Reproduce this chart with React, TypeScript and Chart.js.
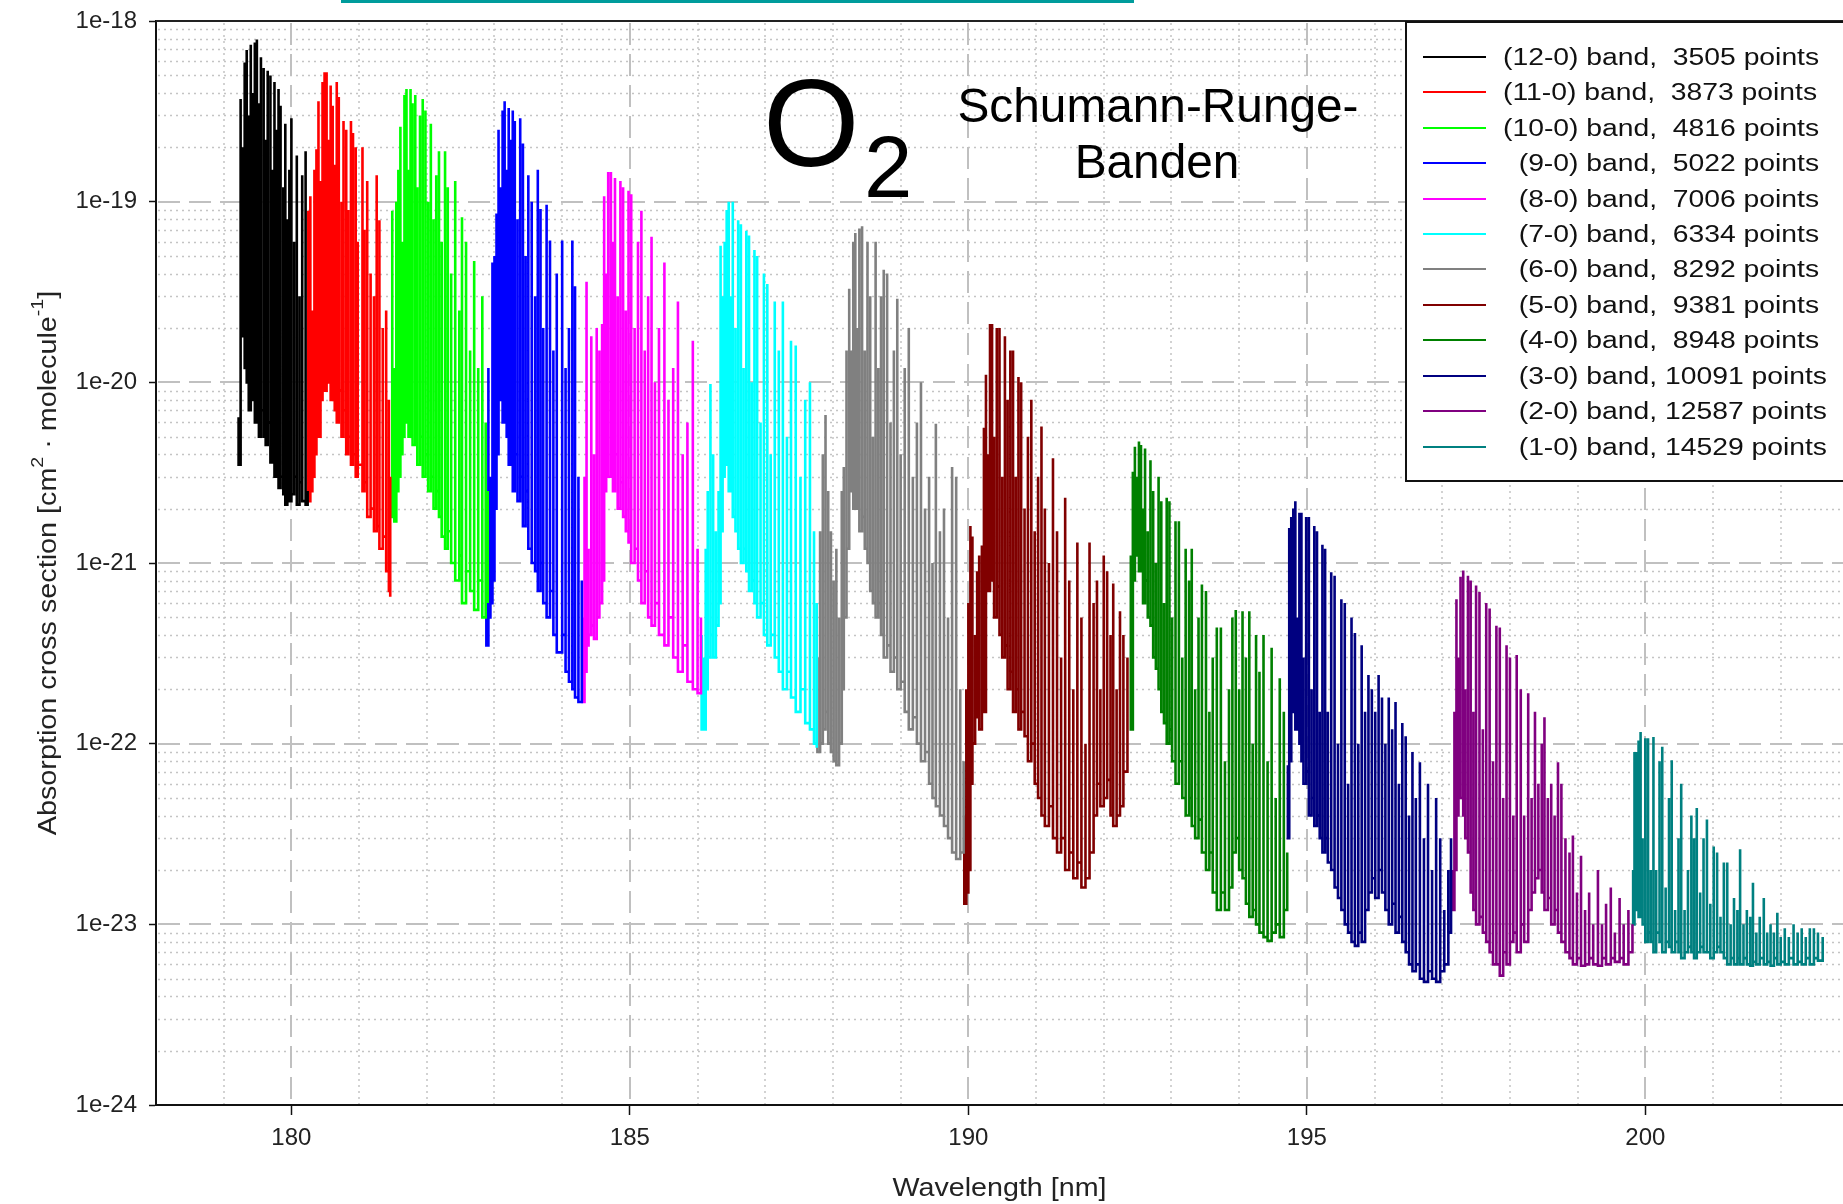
import React, { useEffect, useRef } from 'react';
import { Chart, registerables } from 'chart.js';

Chart.register(...registerables);

// Each spike: [wavelength nm, peak cross section, trough cross section]
type Spike = [number, number, number];

const band12: Spike[] = [
  [179.22, 6.4e-21, 3.5e-21], [179.25, 3.7e-19, 1.9e-20], [179.28, 2.0e-19, 1.8e-20], [179.31, 5.9e-19, 1.2e-20],
  [179.34, 6.9e-19, 1.0e-20], [179.37, 3.0e-19, 7e-21], [179.40, 7.4e-19, 1.4e-20], [179.43, 4.0e-19, 8e-21],
  [179.46, 7.6e-19, 6e-21], [179.49, 7.9e-19, 1.1e-20], [179.52, 3.5e-19, 5e-21], [179.55, 6.3e-19, 7e-21],
  [179.59, 5.5e-19, 5e-21], [179.62, 2.2e-19, 4.5e-21], [179.65, 5.3e-19, 6e-21], [179.69, 5.0e-19, 3.6e-21],
  [179.72, 1.5e-19, 4e-21], [179.75, 4.6e-19, 3e-21], [179.78, 2.5e-19, 5e-21], [179.81, 4.2e-19, 2.6e-21],
  [179.84, 3.4e-19, 3e-21], [179.88, 1.2e-19, 2.4e-21], [179.91, 2.7e-19, 2.1e-21], [179.94, 8e-20, 3e-21],
  [179.97, 1.5e-19, 2.2e-21], [180.00, 2.9e-19, 2.4e-21], [180.04, 6e-20, 3e-21], [180.08, 1.8e-19, 2.1e-21],
  [180.12, 3e-20, 2.8e-21], [180.16, 1.4e-19, 2.2e-21], [180.21, 1.9e-19, 2.1e-21], [180.24, 2.5e-21, 2.1e-21],
];

const band11: Spike[] = [
  [180.25, 8.9e-20, 2.2e-21], [180.28, 1.07e-19, 2.5e-21], [180.31, 2.5e-20, 3.0e-21], [180.34, 1.5e-19, 4e-21],
  [180.37, 1.95e-19, 6e-21], [180.40, 3.6e-19, 5e-21], [180.43, 1.3e-19, 8e-21], [180.46, 4.6e-19, 1.2e-20],
  [180.49, 5.2e-19, 9e-21], [180.52, 5.2e-19, 1.3e-20], [180.55, 2.2e-19, 1.0e-20], [180.58, 4.4e-19, 8e-21],
  [180.61, 3.4e-19, 1.1e-20], [180.64, 1.6e-19, 7e-21], [180.67, 4.6e-19, 6e-21], [180.70, 3.8e-19, 9e-21],
  [180.74, 1.0e-19, 5e-21], [180.77, 2.8e-19, 7e-21], [180.81, 2.5e-19, 4e-21], [180.84, 9e-20, 5e-21],
  [180.88, 2.8e-19, 3.5e-21], [180.91, 2.4e-19, 4e-21], [180.95, 2.0e-19, 3e-21], [180.98, 6e-20, 3.5e-21],
  [181.05, 2.0e-19, 2.5e-21], [181.08, 7e-20, 2.8e-21], [181.12, 1.3e-19, 1.8e-21], [181.17, 4e-20, 2e-21],
  [181.22, 3e-20, 1.5e-21], [181.26, 1.4e-19, 1.6e-21], [181.30, 7.9e-20, 1.2e-21], [181.35, 2e-20, 1.4e-21],
  [181.40, 2.5e-20, 9e-22], [181.44, 8e-21, 7e-22], [181.46, 3e-21, 6.5e-22],
];

const band10: Spike[] = [
  [181.47, 2.5e-21, 1.8e-21], [181.49, 8.9e-20, 2.2e-21], [181.52, 1.2e-20, 1.7e-21], [181.55, 1.0e-19, 2.5e-21],
  [181.58, 1.5e-19, 3e-21], [181.61, 2.6e-19, 4e-21], [181.64, 6e-20, 5e-21], [181.67, 3.9e-19, 6e-21],
  [181.70, 4.2e-19, 8e-21], [181.73, 1.5e-19, 5e-21], [181.76, 4.2e-19, 7e-21], [181.79, 3.5e-19, 4.5e-21],
  [181.83, 3.9e-19, 6e-21], [181.86, 1.2e-19, 3.5e-21], [181.90, 3.0e-19, 5e-21], [181.94, 3.7e-19, 3e-21],
  [181.98, 3.2e-19, 4e-21], [182.02, 1.0e-19, 2.5e-21], [182.06, 2.7e-19, 3e-21], [182.10, 8e-20, 2e-21],
  [182.14, 1.4e-19, 2.5e-21], [182.18, 1.9e-19, 1.8e-21], [182.22, 6e-20, 1.4e-21], [182.27, 1.9e-19, 1.2e-21],
  [182.31, 1.2e-19, 1.5e-21], [182.36, 4e-20, 1.0e-21], [182.42, 1.3e-19, 8e-22], [182.48, 2.5e-20, 1.1e-21],
  [182.52, 8.2e-20, 6e-22], [182.58, 6e-20, 9e-22], [182.64, 1.5e-20, 7e-22], [182.70, 4.7e-20, 5.5e-22],
  [182.76, 1.2e-20, 8e-22], [182.82, 3e-20, 5e-22], [182.87, 6e-21, 7e-22], [182.90, 2.5e-21, 6e-22],
];

const band9: Spike[] = [
  [182.88, 1.5e-21, 3.5e-22], [182.91, 1.2e-20, 5e-22], [182.94, 3e-21, 6e-22], [182.97, 4.6e-20, 8e-22],
  [183.00, 5e-20, 2e-21], [183.03, 8.6e-20, 4e-21], [183.06, 2.5e-19, 8e-21], [183.09, 1.2e-19, 1.0e-20],
  [183.12, 3.2e-19, 6e-21], [183.15, 3.6e-19, 1.0e-20], [183.18, 1.5e-19, 5e-21], [183.21, 3.3e-19, 3.5e-21],
  [183.24, 2.2e-19, 5e-21], [183.27, 3.2e-19, 2.5e-21], [183.30, 2.8e-19, 4e-21], [183.34, 8e-20, 2.2e-21],
  [183.38, 2.9e-19, 3e-21], [183.42, 2.1e-19, 1.6e-21], [183.46, 5e-20, 2.5e-21], [183.50, 1.4e-19, 1.2e-21],
  [183.55, 1.0e-19, 1.0e-21], [183.60, 3e-20, 9e-22], [183.64, 1.5e-19, 7e-22], [183.68, 9.1e-20, 1.0e-21],
  [183.72, 2e-20, 6e-22], [183.77, 9.6e-20, 5e-22], [183.82, 6.1e-20, 7e-22], [183.87, 1.5e-20, 4e-22],
  [183.92, 4e-20, 3.2e-22], [184.00, 6.1e-20, 4e-22], [184.05, 1.2e-20, 2.5e-22], [184.10, 2e-20, 2.2e-22],
  [184.15, 6.1e-20, 2e-22], [184.19, 3.4e-20, 1.8e-22], [184.24, 3e-21, 1.7e-22], [184.29, 8e-22, 1.7e-22],
];

const band8: Spike[] = [
  [184.30, 5e-22, 1.7e-22], [184.33, 3e-21, 2.5e-22], [184.36, 3.6e-20, 3.5e-22], [184.39, 1.2e-21, 4e-22],
  [184.43, 1.8e-20, 4.5e-22], [184.47, 4e-21, 3.8e-22], [184.51, 2e-20, 5e-22], [184.55, 1.5e-20, 6e-22],
  [184.59, 2.1e-20, 8e-22], [184.62, 1.07e-19, 2.5e-21], [184.65, 4e-20, 5e-21], [184.68, 1.46e-19, 3e-21],
  [184.72, 1.46e-19, 6e-21], [184.75, 6e-20, 2.5e-21], [184.78, 1.35e-19, 4e-21], [184.82, 3e-20, 2e-21],
  [184.86, 1.3e-19, 2.8e-21], [184.90, 1.2e-19, 1.8e-21], [184.94, 2.5e-20, 1.5e-21], [184.98, 1.15e-19, 1.3e-21],
  [185.02, 1.1e-19, 1.0e-21], [185.07, 2e-20, 1.2e-21], [185.12, 6e-20, 8e-22], [185.17, 8.9e-20, 6e-22],
  [185.22, 1.5e-20, 9e-22], [185.27, 3e-20, 5e-22], [185.32, 6.4e-20, 4.5e-22], [185.37, 1e-20, 6e-22],
  [185.43, 2e-20, 4e-22], [185.51, 4.6e-20, 3.5e-22], [185.57, 8e-21, 5e-22], [185.64, 1.2e-20, 3e-22],
  [185.71, 2.8e-20, 2.5e-22], [185.78, 4e-21, 3.5e-22], [185.85, 6e-21, 2.2e-22], [185.93, 1.7e-20, 2e-22],
  [186.00, 1.2e-21, 1.9e-22], [186.05, 5e-22, 2.2e-22],
];

const band7: Spike[] = [
  [186.06, 4e-22, 1.2e-22], [186.09, 3e-22, 1.2e-22], [186.12, 1.2e-21, 2e-22], [186.15, 2.5e-21, 3e-22],
  [186.19, 9.8e-21, 4e-22], [186.23, 4e-21, 3e-22], [186.27, 1.5e-21, 4.5e-22], [186.31, 2.5e-21, 6e-22],
  [186.34, 5.7e-20, 1.5e-21], [186.37, 3e-20, 3e-21], [186.40, 6e-20, 5e-21], [186.43, 9e-20, 3.5e-21],
  [186.46, 1.0e-19, 2.5e-21], [186.49, 3e-20, 3e-21], [186.52, 1.0e-19, 1.8e-21], [186.56, 2e-20, 1.5e-21],
  [186.60, 7.9e-20, 1.2e-21], [186.64, 7.5e-20, 1.0e-21], [186.68, 1.2e-20, 1.2e-21], [186.72, 6.9e-20, 9e-22],
  [186.76, 6.5e-20, 7e-22], [186.80, 1e-20, 8e-22], [186.84, 5.4e-20, 6e-22], [186.88, 5e-20, 5e-22],
  [186.93, 6e-21, 6e-22], [186.98, 4e-20, 4e-22], [187.03, 3.5e-20, 3.5e-22], [187.08, 4e-21, 4e-22],
  [187.14, 2.8e-20, 3e-22], [187.20, 1.5e-20, 2.5e-22], [187.26, 2.8e-20, 2e-22], [187.32, 5e-21, 2.5e-22],
  [187.38, 1.7e-20, 1.8e-22], [187.45, 1.6e-20, 1.5e-22], [187.52, 3e-21, 2e-22], [187.59, 8e-21, 1.3e-22],
  [187.66, 1.0e-20, 1.2e-22], [187.72, 1.5e-21, 1e-22], [187.76, 6e-22, 9.5e-23],
];

const band6: Spike[] = [
  [187.77, 3e-22, 9e-23], [187.81, 1.5e-21, 1e-22], [187.85, 4e-21, 1.2e-22], [187.89, 6.6e-21, 1.5e-22],
  [187.93, 2.5e-21, 1.0e-22], [187.97, 1.5e-21, 9e-23], [188.01, 8e-22, 8e-23], [188.05, 1.2e-21, 7.6e-23],
  [188.09, 5e-22, 1.0e-22], [188.13, 2.5e-21, 2e-22], [188.16, 3.4e-21, 5e-22], [188.20, 1.5e-20, 1.2e-21],
  [188.24, 3.3e-20, 2.5e-21], [188.27, 1.5e-20, 4e-21], [188.30, 6e-20, 2e-21], [188.33, 6.7e-20, 3e-21],
  [188.36, 2e-20, 2e-21], [188.39, 7.1e-20, 1.5e-21], [188.43, 7.3e-20, 1.8e-21], [188.47, 1.5e-20, 1.2e-21],
  [188.51, 6e-20, 1.0e-21], [188.55, 3e-20, 7e-22], [188.59, 5e-21, 6e-22], [188.63, 6e-20, 5e-22],
  [188.67, 1.2e-20, 6e-22], [188.71, 3e-20, 4e-22], [188.75, 4.2e-20, 3e-22], [188.80, 4e-20, 3.5e-22],
  [188.85, 6e-21, 2.5e-22], [188.90, 1.5e-20, 3e-22], [188.95, 2.9e-20, 2e-22], [189.00, 4e-21, 2.2e-22],
  [189.06, 1.2e-20, 1.5e-22], [189.12, 2e-20, 1.2e-22], [189.18, 3e-21, 1.4e-22], [189.24, 6e-21, 1.0e-22],
  [189.30, 1.0e-20, 8e-23], [189.36, 2e-21, 9e-23], [189.42, 3e-21, 6e-23], [189.47, 1e-21, 5e-23],
  [189.52, 5.9e-21, 4.5e-23], [189.58, 1.5e-21, 4e-23], [189.64, 2e-21, 3.5e-23], [189.70, 5e-22, 3e-23],
  [189.76, 3.4e-21, 2.5e-23], [189.82, 3e-21, 2.3e-23], [189.88, 2e-22, 2.5e-23], [189.93, 8e-23, 3e-23],
];

const band5: Spike[] = [
  [189.94, 4e-23, 1.3e-23], [189.97, 2e-22, 1.5e-23], [190.00, 6e-22, 2e-23], [190.03, 1.6e-21, 6e-23],
  [190.06, 1.4e-21, 1e-22], [190.10, 4e-22, 1.4e-22], [190.13, 9e-22, 2e-22], [190.16, 1.1e-21, 1.2e-22],
  [190.20, 1.25e-21, 3e-22], [190.23, 5.6e-21, 1.5e-22], [190.26, 1.1e-20, 1.9e-21], [190.29, 4e-21, 7e-22],
  [190.32, 2.1e-20, 1.5e-21], [190.35, 2.1e-20, 8e-22], [190.38, 5e-21, 5e-22], [190.42, 2.0e-20, 7.4e-22],
  [190.46, 2.0e-20, 4e-22], [190.50, 3e-21, 3e-22], [190.54, 1.8e-20, 3.5e-22], [190.58, 8e-21, 2e-22],
  [190.62, 1.5e-20, 2.5e-22], [190.66, 1.5e-20, 1.5e-22], [190.70, 3e-21, 2e-22], [190.74, 1.07e-20, 1.2e-22],
  [190.78, 1.0e-20, 1.5e-22], [190.83, 2e-21, 1.1e-22], [190.88, 5e-21, 8e-23], [190.93, 8e-21, 1.0e-22],
  [190.98, 1.5e-21, 6e-23], [191.03, 3e-21, 5e-23], [191.08, 5.7e-21, 4e-23], [191.13, 2e-21, 3.5e-23],
  [191.19, 1e-21, 4.5e-23], [191.25, 3.8e-21, 3e-23], [191.31, 1.5e-21, 2.5e-23], [191.37, 3e-22, 3e-23],
  [191.43, 2.3e-21, 2e-23], [191.49, 8e-22, 2.5e-23], [191.55, 2e-22, 1.8e-23], [191.61, 1.3e-21, 2.2e-23],
  [191.67, 5e-22, 1.6e-23], [191.73, 1.0e-22, 1.8e-23], [191.79, 1.3e-21, 2.5e-23], [191.85, 6e-22, 4e-23],
  [191.90, 8e-22, 6e-23], [191.95, 2e-22, 4.5e-23], [192.00, 1.1e-21, 5e-23], [192.05, 9e-22, 6.3e-23],
  [192.10, 4e-22, 4e-23], [192.14, 7.7e-22, 3.5e-23], [192.19, 2e-22, 4e-23], [192.24, 5.4e-22, 4.5e-23],
  [192.29, 4e-22, 7e-23], [192.35, 3e-22, 1.2e-22],
];

const band4: Spike[] = [
  [192.40, 1.1e-21, 1.2e-22], [192.43, 3.2e-21, 8e-22], [192.46, 4.4e-21, 1.1e-21], [192.49, 3e-21, 1.4e-21],
  [192.52, 4.7e-21, 9e-22], [192.55, 4.5e-21, 1.2e-21], [192.58, 2e-21, 6e-22], [192.61, 4.3e-21, 8e-22],
  [192.65, 1.5e-21, 5e-22], [192.69, 3.7e-21, 4.5e-22], [192.73, 2.5e-21, 3e-22], [192.77, 1e-21, 2.6e-22],
  [192.81, 3e-21, 2e-22], [192.85, 2.2e-21, 1.5e-22], [192.89, 6e-22, 1.3e-22], [192.93, 2.3e-21, 1.0e-22],
  [192.97, 2.2e-21, 1.2e-22], [193.01, 5e-22, 8e-23], [193.06, 1.7e-21, 6e-23], [193.11, 1.7e-21, 8e-23],
  [193.16, 3e-22, 5e-23], [193.21, 1.2e-21, 4e-23], [193.26, 8e-22, 5e-23], [193.30, 1.2e-21, 3.5e-23],
  [193.35, 2e-22, 3e-23], [193.40, 5e-22, 3.8e-23], [193.45, 7.6e-22, 2.5e-23], [193.51, 7e-22, 2e-23],
  [193.56, 1.5e-22, 2.5e-23], [193.61, 3e-22, 1.5e-23], [193.67, 4.4e-22, 1.2e-23], [193.73, 4.4e-22, 1.5e-23],
  [193.79, 8e-23, 1.2e-23], [193.85, 2e-22, 1.6e-23], [193.90, 5e-22, 2.5e-23], [193.95, 5.5e-22, 3e-23],
  [194.00, 2e-22, 2e-23], [194.05, 5.4e-22, 1.8e-23], [194.10, 3e-22, 1.3e-23], [194.15, 5.4e-22, 1.1e-23],
  [194.20, 1e-22, 1.2e-23], [194.25, 4e-22, 1.0e-23], [194.30, 2.5e-22, 9e-24], [194.36, 4e-22, 8.5e-24],
  [194.42, 8e-23, 8.1e-24], [194.48, 3.4e-22, 9e-24], [194.54, 5e-23, 1.0e-23], [194.60, 2.3e-22, 8.5e-24],
  [194.66, 1.5e-22, 1.2e-23], [194.71, 2.5e-23, 1.5e-23],
];

const band3: Spike[] = [
  [194.72, 7.6e-23, 3e-23], [194.74, 1.56e-21, 8e-23], [194.77, 1.8e-21, 1.5e-22], [194.80, 2.0e-21, 2e-22],
  [194.83, 2.2e-21, 1.2e-22], [194.86, 5e-22, 1.8e-22], [194.89, 1.9e-21, 1.0e-22], [194.92, 1.9e-21, 8e-23],
  [194.95, 3e-22, 6e-23], [194.99, 1.8e-21, 7e-23], [195.03, 1.8e-21, 4e-23], [195.07, 2e-22, 5e-23],
  [195.11, 1.6e-21, 3.5e-23], [195.15, 1.5e-21, 4e-23], [195.19, 1.5e-22, 3e-23], [195.23, 1.26e-21, 2.5e-23],
  [195.27, 1.2e-21, 3e-23], [195.31, 1.5e-22, 2.2e-23], [195.36, 8.9e-22, 2e-23], [195.41, 8.5e-22, 1.6e-23],
  [195.46, 1e-22, 1.4e-23], [195.51, 6.3e-22, 1.2e-23], [195.56, 6e-22, 1.0e-23], [195.61, 6e-23, 9e-24],
  [195.66, 5e-22, 8e-24], [195.71, 4.1e-22, 7.6e-24], [195.76, 1e-22, 9e-24], [195.81, 3.5e-22, 8e-24],
  [195.86, 1.5e-22, 1.2e-23], [195.91, 2.4e-22, 1.5e-23], [195.96, 2e-22, 1.8e-23], [196.01, 1.5e-22, 1.4e-23],
  [196.06, 2.4e-22, 2e-23], [196.11, 1.8e-22, 1.5e-23], [196.16, 1.0e-22, 1.2e-23], [196.21, 1.8e-22, 1.0e-23],
  [196.26, 1.2e-22, 1.3e-23], [196.31, 1.7e-22, 9e-24], [196.36, 6e-23, 1.1e-23], [196.41, 1.3e-22, 8e-24],
  [196.46, 1.1e-22, 7e-24], [196.51, 4e-23, 6e-24], [196.56, 9e-23, 5.5e-24], [196.61, 5e-23, 6e-24],
  [196.67, 7.9e-23, 5e-24], [196.73, 3e-23, 4.8e-24], [196.79, 6e-23, 5.5e-24], [196.85, 2e-23, 5e-24],
  [196.91, 5e-23, 4.8e-24], [196.97, 3e-23, 5.5e-24], [197.03, 1.2e-23, 6e-24], [197.09, 2e-23, 9e-24],
  [197.13, 3e-23, 1.5e-23],
];

const band2: Spike[] = [
  [197.15, 2e-23, 1.2e-23], [197.18, 1.5e-22, 2e-23], [197.21, 6.3e-22, 4e-23], [197.24, 3e-22, 6e-23],
  [197.27, 8.4e-22, 5e-23], [197.31, 9.1e-22, 4e-23], [197.34, 2e-22, 3e-23], [197.38, 8.5e-22, 2.5e-23],
  [197.42, 8e-22, 1.5e-23], [197.46, 1.5e-22, 1.2e-23], [197.50, 7.5e-22, 1.0e-23], [197.55, 6.9e-22, 1.1e-23],
  [197.60, 1.2e-22, 9e-24], [197.65, 6e-22, 8e-24], [197.70, 5.6e-22, 7e-24], [197.75, 8e-23, 6e-24],
  [197.80, 4.5e-22, 6e-24], [197.85, 4.4e-22, 5.2e-24], [197.90, 5e-23, 7e-24], [197.95, 3.5e-22, 6e-24],
  [198.00, 3e-22, 8e-24], [198.05, 4e-23, 9e-24], [198.10, 3.1e-22, 7e-24], [198.16, 2e-22, 1e-23],
  [198.21, 4e-23, 8e-24], [198.27, 1.9e-22, 1.2e-23], [198.32, 5e-23, 1.5e-23], [198.37, 1.5e-22, 1.8e-23],
  [198.42, 6e-23, 2e-23], [198.47, 1.0e-22, 1.5e-23], [198.51, 1.4e-22, 1.2e-23], [198.56, 5e-23, 1.4e-23],
  [198.61, 6e-23, 1.0e-23], [198.66, 4e-23, 1.2e-23], [198.71, 7.9e-23, 9e-24], [198.76, 6e-23, 8e-24],
  [198.82, 3e-23, 7e-24], [198.88, 2.5e-23, 6.5e-24], [198.93, 3.1e-23, 6e-24], [198.99, 1.5e-23, 6.5e-24],
  [199.05, 2.4e-23, 5.9e-24], [199.11, 1.2e-23, 6e-24], [199.17, 1.5e-23, 6.5e-24], [199.23, 1.0e-23, 6e-24],
  [199.30, 2e-23, 5.9e-24], [199.36, 1.0e-23, 6.5e-24], [199.42, 1.3e-23, 6e-24], [199.49, 1.6e-23, 6.5e-24],
  [199.55, 9e-24, 6.2e-24], [199.62, 1.4e-23, 6.5e-24], [199.68, 1.0e-23, 6e-24], [199.75, 1.2e-23, 7e-24],
  [199.81, 1.0e-23, 7e-24],
];

const band1: Spike[] = [
  [199.82, 2e-23, 1e-23], [199.84, 9e-23, 1.3e-23], [199.87, 9e-23, 1.2e-23], [199.90, 1.04e-22, 1.1e-23],
  [199.93, 1.16e-22, 1.2e-23], [199.96, 3e-23, 1.0e-23], [200.00, 1.07e-22, 8e-24], [200.04, 1.07e-22, 9e-24],
  [200.08, 2e-23, 8e-24], [200.12, 1.09e-22, 7e-24], [200.16, 2e-23, 9e-24], [200.21, 8e-23, 8e-24],
  [200.25, 9.6e-23, 7e-24], [200.30, 1.6e-23, 8e-24], [200.35, 5e-23, 7.5e-24], [200.39, 8.1e-23, 7e-24],
  [200.44, 1.2e-23, 8e-24], [200.49, 3e-23, 7e-24], [200.53, 6e-23, 6.5e-24], [200.58, 1.2e-23, 7e-24],
  [200.63, 2e-23, 7.5e-24], [200.68, 4e-23, 7e-24], [200.72, 3e-23, 6.5e-24], [200.76, 4.4e-23, 7e-24],
  [200.81, 1.5e-23, 7.5e-24], [200.86, 3e-23, 7e-24], [200.91, 3.8e-23, 7e-24], [200.96, 1.3e-23, 6.5e-24],
  [201.01, 2.7e-23, 7e-24], [201.06, 2.5e-23, 7.5e-24], [201.11, 1.1e-23, 7e-24], [201.16, 2.2e-23, 6.5e-24],
  [201.21, 2.2e-23, 6e-24], [201.26, 1.0e-23, 6.5e-24], [201.31, 1.4e-23, 6e-24], [201.36, 1.2e-23, 6.5e-24],
  [201.40, 2.6e-23, 6e-24], [201.45, 1.0e-23, 6.5e-24], [201.50, 1.2e-23, 6e-24], [201.55, 1.1e-23, 5.9e-24],
  [201.59, 1.7e-23, 6.2e-24], [201.64, 9e-24, 6e-24], [201.69, 1.1e-23, 6.5e-24], [201.75, 1.4e-23, 6e-24],
  [201.80, 9e-24, 6.2e-24], [201.85, 1.0e-23, 5.9e-24], [201.90, 9e-24, 6.5e-24], [201.95, 1.16e-23, 6e-24],
  [202.00, 8.5e-24, 6.2e-24], [202.06, 9.5e-24, 6e-24], [202.12, 8.5e-24, 6.5e-24], [202.19, 1.0e-23, 6e-24],
  [202.25, 9e-24, 6.2e-24], [202.31, 9.5e-24, 6e-24], [202.37, 8.5e-24, 6.5e-24], [202.43, 9.5e-24, 6e-24],
  [202.49, 9.5e-24, 6.5e-24], [202.55, 9e-24, 6.3e-24], [202.62, 8.5e-24, 7e-24],
];

const bandLabels = [
  '(12-0) band,  3505 points',
  '(11-0) band,  3873 points',
  '(10-0) band,  4816 points',
  '  (9-0) band,  5022 points',
  '  (8-0) band,  7006 points',
  '  (7-0) band,  6334 points',
  '  (6-0) band,  8292 points',
  '  (5-0) band,  9381 points',
  '  (4-0) band,  8948 points',
  '  (3-0) band, 10091 points',
  '  (2-0) band, 12587 points',
  '  (1-0) band, 14529 points',
];
const bandColors = [
  '#000000', '#ff0000', '#00ff00', '#0000ff', '#ff00ff', '#00ffff',
  '#808080', '#800000', '#008000', '#000080', '#800080', '#008080',
];
const bands = [band12, band11, band10, band9, band8, band7, band6, band5, band4, band3, band2, band1];

const xMajorTicks = [180, 185, 190, 195, 200];
const xMinorTicks = [178, 179, 181, 182, 183, 184, 186, 187, 188, 189, 191, 192, 193, 194, 196, 197, 198, 199, 201, 202];
const yDecadeTicks = [1e-24, 1e-23, 1e-22, 1e-21, 1e-20, 1e-19, 1e-18];
const yMinorMantissas = [2, 3, 4, 5, 6, 7, 8, 9];

const FONT = "'Liberation Sans', Arial, Helvetica, sans-serif";

function drawScaled(
  ctx: CanvasRenderingContext2D, text: string, x: number, y: number,
  font: string, sx: number, align: CanvasTextAlign,
) {
  ctx.save();
  ctx.translate(x, y);
  ctx.scale(sx, 1);
  ctx.font = font;
  ctx.textAlign = align;
  ctx.textBaseline = 'alphabetic';
  ctx.fillText(text, 0, 0);
  ctx.restore();
}

const decorPlugin = {
  id: 'decor',
  beforeDatasetsDraw(chart: any) {
    const { ctx, chartArea: a, scales } = chart;
    const x = scales.x;
    const y = scales.y;
    ctx.save();
    // minor dotted grid
    ctx.strokeStyle = '#c4c4c4';
    ctx.lineWidth = 1.5;
    ctx.setLineDash([2, 4]);
    ctx.beginPath();
    for (const v of xMinorTicks) {
      const px = Math.round(x.getPixelForValue(v));
      if (px <= a.left + 1 || px >= a.right) continue;
      ctx.moveTo(px, a.top + 2);
      ctx.lineTo(px, a.bottom - 1);
    }
    for (let k = 0; k < yDecadeTicks.length - 1; k++) {
      for (const m of yMinorMantissas) {
        const py = Math.round(y.getPixelForValue(m * yDecadeTicks[k])) + 0.5;
        ctx.moveTo(a.left + 2, py);
        ctx.lineTo(a.right, py);
      }
    }
    ctx.stroke();
    // major dashed grid
    ctx.strokeStyle = '#c0c0c0';
    ctx.lineWidth = 2;
    ctx.setLineDash([22, 9]);
    ctx.beginPath();
    for (const v of xMajorTicks) {
      const px = Math.round(x.getPixelForValue(v));
      ctx.moveTo(px, a.top + 2);
      ctx.lineTo(px, a.bottom - 1);
    }
    for (let k = 1; k < yDecadeTicks.length - 1; k++) {
      const py = Math.round(y.getPixelForValue(yDecadeTicks[k]));
      ctx.moveTo(a.left + 2, py);
      ctx.lineTo(a.right, py);
    }
    ctx.stroke();
    ctx.restore();
  },
  afterDraw(chart: any) {
    const { ctx, chartArea: a } = chart;
    ctx.save();
    ctx.setLineDash([]);
    // top frame line
    ctx.strokeStyle = '#222';
    ctx.lineWidth = 2;
    ctx.beginPath();
    ctx.moveTo(a.left, a.top);
    ctx.lineTo(a.right, a.top);
    ctx.stroke();

    // underline of the cropped page header link
    ctx.fillStyle = '#009c9c';
    ctx.fillRect(341, 0, 793, 3);

    // O2 annotation
    ctx.fillStyle = '#000';
    ctx.textAlign = 'left';
    ctx.textBaseline = 'alphabetic';
    ctx.font = `124px ${FONT}`;
    ctx.fillText('O', 763, 166);
    ctx.font = `87px ${FONT}`;
    ctx.fillText('2', 864, 197);
    drawScaled(ctx, 'Schumann-Runge-', 1158, 122, `49px ${FONT}`, 0.975, 'center');
    drawScaled(ctx, 'Banden', 1157, 178, `49px ${FONT}`, 0.975, 'center');

    // legend box
    const lx = 1406, ly = 22, lh = 459;
    ctx.fillStyle = '#fff';
    ctx.fillRect(lx, ly, chart.width - lx + 10, lh);
    ctx.strokeStyle = '#111';
    ctx.lineWidth = 2;
    ctx.strokeRect(lx, ly, chart.width - lx + 10, lh);
    chart.data.datasets.forEach((ds: any, i: number) => {
      const ry = Math.round(56.7 + 35.45 * i);
      ctx.strokeStyle = ds.borderColor;
      ctx.lineWidth = 2;
      ctx.beginPath();
      ctx.moveTo(1423, ry);
      ctx.lineTo(1486, ry);
      ctx.stroke();
      ctx.fillStyle = '#111';
      drawScaled(ctx, ds.label, 1503, ry + 8, `23px ${FONT}`, 1.23, 'left');
    });

    // axis titles
    ctx.fillStyle = '#222';
    drawScaled(ctx, 'Wavelength [nm]', (a.left + a.right) / 2, 1196, `25px ${FONT}`, 1.146, 'center');

    const parts: { t: string; sup: boolean }[] = [
      { t: 'Absorption cross section [cm', sup: false },
      { t: '2', sup: true },
      { t: ' \u00b7 molecule', sup: false },
      { t: '-1', sup: true },
      { t: ']', sup: false },
    ];
    const mainFont = `25px ${FONT}`;
    const supFont = `17px ${FONT}`;
    let total = 0;
    const widths = parts.map((p) => {
      ctx.font = p.sup ? supFont : mainFont;
      const w = ctx.measureText(p.t).width;
      total += w;
      return w;
    });
    ctx.save();
    ctx.translate(56, (a.top + a.bottom) / 2);
    ctx.rotate(-Math.PI / 2);
    ctx.scale(1.15, 1);
    ctx.textAlign = 'left';
    ctx.textBaseline = 'alphabetic';
    let cx = -total / 2;
    parts.forEach((p, i) => {
      ctx.font = p.sup ? supFont : mainFont;
      ctx.fillText(p.t, cx, p.sup ? -13 : 0);
      cx += widths[i];
    });
    ctx.restore();
    ctx.restore();
  },
};

export default function App() {
  const canvasRef = useRef<HTMLCanvasElement | null>(null);

  useEffect(() => {
    const canvas = canvasRef.current;
    if (!canvas) return;
    const datasets = bands.map((band, i) => ({
      label: bandLabels[i],
      data: band.flatMap(([x, p, t]) => [{ x, y: p }, { x, y: t }]),
      borderColor: bandColors[i],
      backgroundColor: bandColors[i],
      borderWidth: 2.6,
      pointRadius: 0,
      pointHoverRadius: 0,
      fill: false,
      tension: 0,
      stepped: 'before' as const,
    }));
    const tickFont = { family: FONT, size: 24 };
    const chart = new Chart(canvas, {
      type: 'line',
      data: { datasets },
      options: {
        animation: false,
        responsive: false,
        devicePixelRatio: 1,
        events: [],
        layout: { padding: { top: 21, left: 0, right: 0, bottom: 0 } },
        plugins: {
          legend: { display: false },
          tooltip: { enabled: false },
          title: { display: false },
        },
        scales: {
          x: {
            type: 'linear',
            min: 178,
            max: 202.92,
            afterFit: (s: any) => {
              s.height = 99;
              s.paddingLeft = 0;
              s.paddingRight = 0;
            },
            afterBuildTicks: (s: any) => {
              s.ticks = xMajorTicks.map((v) => ({ value: v }));
            },
            ticks: {
              font: tickFont,
              color: '#222',
              padding: 9,
              maxRotation: 0,
              autoSkip: false,
              callback: (v: any) => String(v),
            },
            grid: {
              drawOnChartArea: false,
              drawTicks: true,
              tickLength: 10,
              tickColor: '#111',
              tickWidth: 1.5,
            },
            border: { display: true, color: '#111', width: 2 },
          },
          y: {
            type: 'logarithmic',
            min: 1e-24,
            max: 1e-18,
            afterFit: (s: any) => {
              s.width = 156;
              s.paddingTop = 0;
              s.paddingBottom = 0;
            },
            afterBuildTicks: (s: any) => {
              s.ticks = yDecadeTicks.map((v) => ({ value: v }));
            },
            ticks: {
              font: tickFont,
              color: '#222',
              padding: 12,
              autoSkip: false,
              callback: (v: any) => '1e' + Math.round(Math.log10(Number(v))),
            },
            grid: {
              drawOnChartArea: false,
              drawTicks: true,
              tickLength: 7,
              tickColor: '#111',
              tickWidth: 1.5,
            },
            border: { display: true, color: '#111', width: 2 },
          },
        },
      },
      plugins: [decorPlugin],
    } as any);
    return () => chart.destroy();
  }, []);

  return (
    <div style={{ position: 'fixed', left: 0, top: 0, width: 1843, height: 1204, background: '#fff' }}>
      <canvas ref={canvasRef} width={1843} height={1204} style={{ display: 'block' }} />
    </div>
  );
}
